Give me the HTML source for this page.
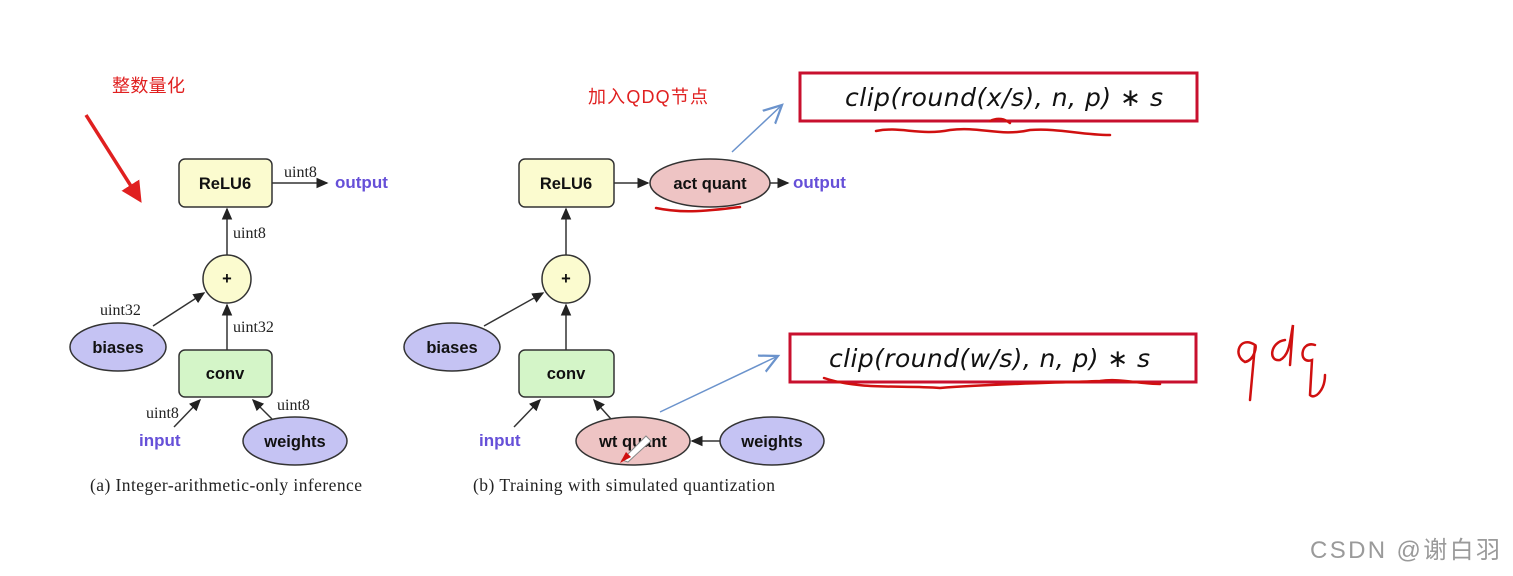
<!DOCTYPE html>
<html><head><meta charset="utf-8"><style>
html,body{margin:0;padding:0;background:#fff;}
svg{display:block}
.n{font-family:"Liberation Sans",sans-serif;font-weight:bold;font-size:16.5px;fill:#111}
.s{font-family:"Liberation Serif",serif;font-size:16px;fill:#222}
.b{font-family:"Liberation Sans",sans-serif;font-weight:bold;font-size:17px;fill:#6650d8}
.f{font-family:"DejaVu Sans",sans-serif;font-style:italic;font-size:25px;fill:#111}
.c{font-family:"Liberation Sans","Noto Sans CJK SC",sans-serif;font-size:18px;fill:#e02020}
.cap{font-family:"Liberation Serif",serif;font-size:17.5px;fill:#222}
</style></head><body>
<svg width="1513" height="576" viewBox="0 0 1513 576" xmlns="http://www.w3.org/2000/svg">
<defs>
<marker id="a" markerWidth="8" markerHeight="8" refX="7" refY="4" orient="auto"><path d="M0,0.5 L8,4 L0,7.5 Z" fill="#222"/></marker>
<marker id="bl" markerWidth="14" markerHeight="14" refX="12" refY="7" orient="auto"><path d="M0,1 L12,7 L0,13" fill="none" stroke="#6b93cc" stroke-width="1.5"/></marker>
<marker id="r" markerWidth="6" markerHeight="6" refX="3" refY="3" orient="auto"><path d="M0,0 L6,3 L0,6 Z" fill="#e02020"/></marker>
</defs>
<line x1="86" y1="115" x2="136" y2="194" stroke="#e02020" stroke-width="3.5" marker-end="url(#r)"/>
<text x="112" y="92" class="c" textLength="73">整数量化</text>
<text x="588" y="103" class="c" textLength="120">加入QDQ节点</text>

<g stroke="#333" stroke-width="1.5">
<rect x="179" y="159" width="93" height="48" rx="6" fill="#fbfbcf"/>
<circle cx="227" cy="279" r="24" fill="#fbfbcf"/>
<ellipse cx="118" cy="347" rx="48" ry="24" fill="#c5c3f3"/>
<rect x="179" y="350" width="93" height="47" rx="6" fill="#d4f5c8"/>
<ellipse cx="295" cy="441" rx="52" ry="24" fill="#c5c3f3"/>
<line x1="272" y1="183" x2="327" y2="183" marker-end="url(#a)"/>
<line x1="227" y1="255" x2="227" y2="209" marker-end="url(#a)"/>
<line x1="153" y1="326" x2="204" y2="293" marker-end="url(#a)"/>
<line x1="227" y1="350" x2="227" y2="305" marker-end="url(#a)"/>
<line x1="174" y1="427" x2="200" y2="400" marker-end="url(#a)"/>
<line x1="272" y1="419" x2="253" y2="400" marker-end="url(#a)"/>
<rect x="519" y="159" width="95" height="48" rx="6" fill="#fbfbcf"/>
<ellipse cx="710" cy="183" rx="60" ry="24" fill="#eec4c4"/>
<circle cx="566" cy="279" r="24" fill="#fbfbcf"/>
<ellipse cx="452" cy="347" rx="48" ry="24" fill="#c5c3f3"/>
<rect x="519" y="350" width="95" height="47" rx="6" fill="#d4f5c8"/>
<ellipse cx="633" cy="441" rx="57" ry="24" fill="#eec4c4"/>
<ellipse cx="772" cy="441" rx="52" ry="24" fill="#c5c3f3"/>
<line x1="614" y1="183" x2="648" y2="183" marker-end="url(#a)"/>
<line x1="770" y1="183" x2="788" y2="183" marker-end="url(#a)"/>
<line x1="566" y1="255" x2="566" y2="209" marker-end="url(#a)"/>
<line x1="484" y1="326" x2="543" y2="293" marker-end="url(#a)"/>
<line x1="566" y1="350" x2="566" y2="305" marker-end="url(#a)"/>
<line x1="514" y1="427" x2="540" y2="400" marker-end="url(#a)"/>
<line x1="611" y1="419" x2="594" y2="400" marker-end="url(#a)"/>
<line x1="720" y1="441" x2="692" y2="441" marker-end="url(#a)"/>
</g>
<text x="225" y="189" class="n" text-anchor="middle">ReLU6</text>
<text x="227" y="284" class="n" text-anchor="middle" font-size="12">+</text>
<text x="118" y="353" class="n" text-anchor="middle">biases</text>
<text x="225" y="379" class="n" text-anchor="middle">conv</text>
<text x="295" y="447" class="n" text-anchor="middle">weights</text>
<text x="335" y="188" class="b">output</text>
<text x="139" y="446" class="b">input</text>
<text x="284" y="177" class="s">uint8</text>
<text x="233" y="238" class="s">uint8</text>
<text x="100" y="315" class="s">uint32</text>
<text x="233" y="332" class="s">uint32</text>
<text x="146" y="418" class="s">uint8</text>
<text x="277" y="410" class="s">uint8</text>
<text x="90" y="491" class="cap" textLength="272">(a) Integer-arithmetic-only inference</text>

<text x="566" y="189" class="n" text-anchor="middle">ReLU6</text>
<text x="710" y="189" class="n" text-anchor="middle">act quant</text>
<text x="566" y="284" class="n" text-anchor="middle" font-size="12">+</text>
<text x="452" y="353" class="n" text-anchor="middle">biases</text>
<text x="566" y="379" class="n" text-anchor="middle">conv</text>
<text x="633" y="447" class="n" text-anchor="middle">wt quant</text>
<text x="772" y="447" class="n" text-anchor="middle">weights</text>
<text x="793" y="188" class="b">output</text>
<text x="479" y="446" class="b">input</text>
<text x="473" y="491" class="cap" textLength="302">(b) Training with simulated quantization</text>

<path d="M622,460 L646,436 L651,441 L628,462 Z" fill="#fff" stroke="#888" stroke-width="1"/>
<path d="M620,463 L626,452 L631,457 Z" fill="#d01010"/>

<line x1="732" y1="152" x2="782" y2="105" stroke="#6b93cc" stroke-width="1.5" marker-end="url(#bl)"/>
<line x1="660" y1="412" x2="778" y2="356" stroke="#6b93cc" stroke-width="1.5" marker-end="url(#bl)"/>

<rect x="800" y="73" width="397" height="48" fill="none" stroke="#c8102e" stroke-width="3"/>
<text x="845" y="106" class="f" textLength="318">clip(round(x/s), n, p)  ∗  s</text>
<rect x="790" y="334" width="406" height="48" fill="none" stroke="#c8102e" stroke-width="3"/>
<text x="829" y="367" class="f" textLength="321">clip(round(w/s), n, p)  ∗  s</text>

<g fill="none" stroke="#d01010" stroke-width="2.5" stroke-linecap="round">
<path d="M876,131 C900,126 920,136 950,130 C980,126 1000,137 1030,130 C1060,128 1080,135 1110,135"/>
<path d="M990,121 C998,117 1005,119 1010,123"/>
<path d="M656,208 C680,213 700,212 740,207"/>
<path d="M824,378 C860,390 900,385 940,388 C990,384 1050,383 1100,381 C1120,378 1140,384 1160,384"/>
<path d="M1255,345 C1240,335 1232,355 1245,362 C1255,360 1257,345 1255,345 L1250,400 M1285,340 C1270,342 1268,362 1280,360 C1290,355 1290,340 1293,325 L1290,365 M1315,345 C1300,340 1298,365 1312,360 L1310,395 C1315,400 1325,390 1325,375"/>
</g>

<text x="1310" y="558" font-family="Liberation Sans,'Noto Sans CJK SC',sans-serif" font-size="24" fill="#9a9a9a" textLength="190">CSDN @谢白羽</text>
</svg>
</body></html>
